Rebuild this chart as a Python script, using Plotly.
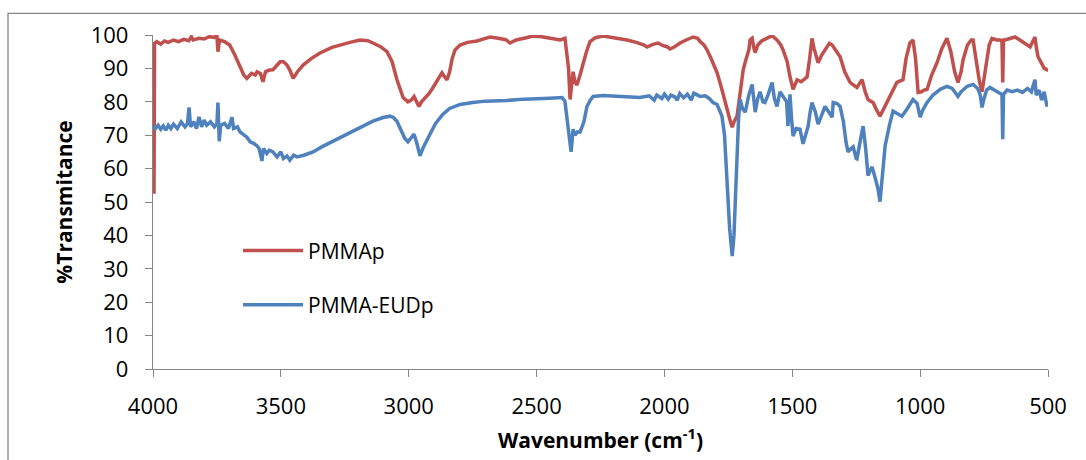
import plotly.graph_objects as go

# PMMAp (red) spectrum: wavenumber (cm-1) and %Transmittance
pmma_wn = [4000, 3996, 3994, 3985, 3970, 3955, 3940, 3920, 3900, 3880, 3860, 3850, 3843, 3820, 3800, 3780,
           3760, 3750, 3746, 3740, 3720, 3700, 3680, 3660, 3645, 3633, 3615, 3600, 3593, 3580, 3570, 3560,
           3545, 3531, 3515, 3503, 3490, 3476, 3465, 3452, 3435, 3413, 3380, 3347, 3300, 3269, 3230, 3190,
           3160, 3140, 3110, 3085, 3065, 3046, 3030, 3022, 3003, 2990, 2979, 2970, 2960, 2950, 2936, 2920,
           2905, 2885, 2870, 2860, 2850, 2840, 2830, 2819, 2799, 2770, 2733, 2700, 2682, 2650, 2620, 2604,
           2580, 2540, 2514, 2480, 2440, 2408, 2389, 2375, 2369, 2362, 2357, 2350, 2342, 2330, 2318, 2305,
           2291, 2270, 2240, 2200, 2170, 2146, 2110, 2080, 2068, 2045, 2025, 2005, 1990, 1978, 1960, 1939,
           1915, 1888, 1870, 1860, 1845, 1833, 1815, 1794, 1780, 1763, 1750, 1740, 1735, 1728, 1716, 1705,
           1692, 1680, 1670, 1665, 1657, 1650, 1645, 1635, 1620, 1600, 1579, 1560, 1545, 1536, 1520, 1509,
           1497, 1490, 1481, 1465, 1450, 1442, 1432, 1423, 1415, 1405, 1399, 1385, 1370, 1355, 1344, 1330,
           1313, 1295, 1274, 1260, 1247, 1237, 1227, 1215, 1204, 1194, 1184, 1170, 1157, 1145, 1130, 1110,
           1091, 1080, 1067, 1055, 1040, 1028, 1018, 1008, 995, 985, 973, 955, 934, 915, 895, 880,
           865, 852, 840, 832, 815, 800, 793, 780, 768, 758, 745, 730, 719, 700, 687, 680,
           677, 674, 668, 650, 629, 610, 590, 570, 560, 551, 545, 539, 525, 515, 504, 500]
pmma_t = [53, 53, 97.5, 98, 97.3, 98.2, 97.8, 98.5, 98, 98.7, 98.3, 99.5, 98.5, 99, 98.8, 99.5,
          99.3, 99.8, 95, 98.5, 98, 97, 94, 90.5, 88, 87, 88.5, 88, 89, 88.5, 86, 89,
          89.5, 89.6, 91, 92, 92, 91, 89.5, 87, 89, 91, 93, 94.6, 96.3, 97, 97.8, 98.5,
          98.3, 97.6, 96.5, 95, 92, 86.6, 83, 81.3, 80, 80.5, 81.6, 80, 78.6, 80, 81, 82.5,
          84.3, 87, 88.7, 87.5, 86.6, 89, 93, 95.5, 97, 97.8, 98.2, 99, 99.4, 99, 98.6, 97.6,
          98.5, 99.2, 99.7, 99.5, 99, 98.5, 99, 90, 80.7, 85, 89, 86, 85, 88, 91.7, 95,
          98, 99.2, 99.7, 99.3, 98.8, 98.5, 97.8, 97, 96.4, 97.2, 97.6, 96.8, 96.5, 95.8, 96.5, 97.6,
          98.5, 99.4, 99, 98, 97, 95.5, 92.5, 88.7, 85, 79.8, 75.5, 73.5, 72.4, 74, 75.7, 82,
          89.6, 93, 95.5, 98.5, 99, 96, 94.7, 97, 98.2, 99, 99.8, 98.5, 97, 95.5, 92, 87.5,
          83.7, 85, 86.6, 86, 87, 87.5, 93, 99, 96, 93, 91.7, 94, 96, 97.5, 97, 95.5,
          93.5, 89, 85.8, 85, 84.3, 85.5, 86.6, 83, 80.7, 80.2, 79.8, 77.5, 75.7, 77.5, 79.8, 83,
          85.8, 86.2, 86.6, 93, 97.6, 98.5, 93, 82.8, 83, 83.5, 83.7, 88, 91.7, 96, 99, 95,
          89, 85.8, 89, 92.6, 97, 98.5, 98.5, 92, 86, 83, 90, 97, 99, 98.5, 98.5, 98,
          85.8, 98.5, 98.5, 99, 99.4, 98.5, 97.5, 96.4, 98, 99.4, 96, 93.5, 91.5, 90, 89.6, 90]

# PMMA-EUDp (blue) spectrum
eud_wn = [4000, 3990, 3980, 3970, 3960, 3950, 3940, 3930, 3920, 3905, 3890, 3875, 3865, 3859, 3853, 3840,
          3830, 3820, 3810, 3800, 3790, 3775, 3760, 3750, 3746, 3741, 3735, 3720, 3705, 3691, 3685, 3670,
          3660, 3645, 3633, 3620, 3605, 3593, 3585, 3574, 3568, 3555, 3545, 3531, 3515, 3500, 3490, 3476,
          3465, 3450, 3437, 3410, 3374, 3340, 3296, 3260, 3218, 3180, 3140, 3100, 3073, 3060, 3046, 3030,
          3015, 3003, 2990, 2979, 2968, 2956, 2945, 2930, 2917, 2895, 2866, 2840, 2799, 2750, 2700, 2616,
          2550, 2450, 2400, 2389, 2375, 2365, 2357, 2350, 2340, 2330, 2315, 2303, 2290, 2279, 2240, 2200,
          2150, 2096, 2060, 2040, 2030, 2010, 2000, 1985, 1975, 1960, 1950, 1940, 1925, 1910, 1895, 1885,
          1870, 1860, 1840, 1825, 1810, 1794, 1785, 1775, 1765, 1755, 1745, 1735, 1728, 1722, 1716, 1710,
          1704, 1695, 1684, 1670, 1657, 1650, 1645, 1635, 1626, 1615, 1607, 1595, 1579, 1570, 1560, 1548,
          1536, 1522, 1517, 1512, 1509, 1503, 1497, 1485, 1470, 1458, 1448, 1438, 1430, 1423, 1410, 1399,
          1385, 1372, 1358, 1344, 1340, 1325, 1313, 1300, 1290, 1282, 1270, 1262, 1250, 1247, 1235, 1223,
          1213, 1204, 1195, 1188, 1175, 1165, 1157, 1148, 1137, 1120, 1106, 1090, 1071, 1050, 1028, 1012,
          1000, 990, 973, 950, 920, 895, 875, 860, 852, 840, 817, 793, 775, 765, 758, 750,
          740, 727, 700, 680, 677, 674, 660, 640, 620, 600, 580, 565, 551, 546, 535, 525,
          515, 508, 504, 500]
eud_t = [72.7, 72, 73, 71.8, 72.8, 71.5, 73, 72, 73.3, 72, 74, 72.5, 73.5, 78.3, 72.5, 74,
         72, 75.5, 72.5, 74.5, 73, 74, 72.5, 73.5, 79.8, 68.2, 73, 73.5, 72, 75.4, 72, 72.5,
         71, 70, 69.4, 68, 67.5, 66.8, 66, 62.3, 66, 64.5, 65.5, 65, 63.5, 65, 63, 63.8,
         62.5, 64, 63.5, 64, 65, 66.5, 68.2, 69.7, 71.2, 72.7, 74.2, 75.3, 75.7, 75.3, 74.2, 71.5,
         69, 68, 69.5, 70.3, 67.5, 63.8, 66, 68.5, 70.3, 73.5, 76.3, 78, 79.2, 79.8, 80.2, 80.4,
         80.8, 81.1, 81.3, 80.1, 72, 65, 71.8, 70, 71, 70.9, 74, 78.6, 80.5, 81.6, 81.9, 81.8,
         81.6, 81.3, 81.8, 80.5, 82, 81, 82.3, 80.8, 82, 81.5, 80.5, 82.5, 81.2, 82.3, 80.5, 82.6,
         82, 81.6, 81.8, 81, 79.8, 79.2, 77.5, 75.7, 70, 55, 42, 33.8, 40, 52, 65, 75,
         80.7, 78, 76.9, 82, 85.2, 79, 76.9, 81, 83, 80, 79.8, 82, 85.8, 81, 78.6, 83,
         81.6, 80, 72.7, 80, 82.2, 75, 69.7, 72, 71.8, 67.4, 70, 72.7, 77, 79.8, 77, 73.3,
         76, 78.6, 77, 75.4, 79.8, 79.5, 78.6, 74, 68, 65, 66, 66.5, 63, 62.9, 68, 72.7,
         66, 57.9, 59.5, 60.5, 57, 54, 50.1, 58, 66.8, 73, 77.2, 76.5, 75.7, 78, 80.7, 79.5,
         75.4, 77.5, 79.8, 82, 83.8, 84.6, 84, 82.5, 81.6, 83, 84.6, 85.2, 84, 82, 78.3, 81,
         83.5, 84.3, 83.2, 82.2, 68.8, 82.2, 83.5, 83, 83.5, 82.8, 84, 83, 86.6, 82, 83.5, 80.5,
         83, 79, 78.6, 80]

x_ticks = [4000, 3500, 3000, 2500, 2000, 1500, 1000, 500]
y_ticks = [0, 10, 20, 30, 40, 50, 60, 70, 80, 90, 100]

FONT = "Open Sans"
AXIS_COLOR = "#868686"

fig = go.Figure()
fig.add_trace(go.Scatter(x=pmma_wn, y=pmma_t, mode="lines", name="PMMAp", legendgroup="a",
                         line=dict(color="#C0504D", width=3.5)))
fig.add_trace(go.Scatter(x=eud_wn, y=eud_t, mode="lines", name="PMMA-EUDp", legendgroup="b",
                         line=dict(color="#4F81BD", width=3.5)))

fig.update_layout(
    width=1086, height=460,
    margin=dict(l=153, r=38, t=35, b=88),
    paper_bgcolor="white", plot_bgcolor="white",
    font=dict(family=FONT, size=22, color="#000000"),
    showlegend=True,
    legend=dict(x=0.095, y=0.415, xanchor="left", yanchor="top", bgcolor="rgba(0,0,0,0)",
                font=dict(family=FONT, size=21), tracegroupgap=24, traceorder="grouped",
                itemwidth=60),
    xaxis=dict(range=[4000, 500], tickvals=x_ticks, ticktext=[str(v) for v in x_ticks],
               showline=True, linecolor=AXIS_COLOR, linewidth=1.3, ticks="outside", ticklen=7,
               tickcolor=AXIS_COLOR, showgrid=False, zeroline=False,
               tickfont=dict(family=FONT, size=22), ticklabelstandoff=10,
               title=dict(text="<b>Wavenumber (cm<sup>-1</sup>)</b>", font=dict(family=FONT, size=21),
                          standoff=14)),
    yaxis=dict(range=[0, 100], tickvals=y_ticks, showline=True, linecolor=AXIS_COLOR, linewidth=1.3,
               ticks="outside", ticklen=7, tickcolor=AXIS_COLOR, showgrid=False, zeroline=False,
               tickfont=dict(family=FONT, size=22), ticklabelstandoff=12,
               title=dict(text="<b>%Transmitance</b>", font=dict(family=FONT, size=21), standoff=12)),
    shapes=[dict(type="rect", xref="paper", yref="paper", x0=-0.162, x1=1.2, y0=-0.5, y1=1.065,
                 line=dict(color=AXIS_COLOR, width=1.3), fillcolor="rgba(0,0,0,0)", layer="below")],
)

fig.write_html("out.html")
